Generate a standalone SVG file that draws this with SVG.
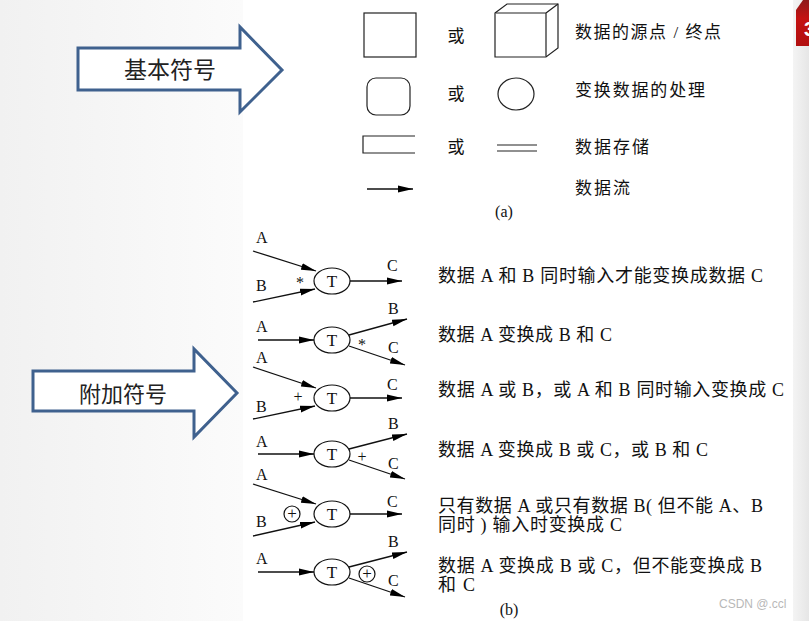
<svg xmlns="http://www.w3.org/2000/svg" width="809" height="621" viewBox="0 0 809 621">
<defs>
<linearGradient id="bgl" x1="0" y1="0" x2="1" y2="0">
<stop offset="0" stop-color="#f1f1f1"/>
<stop offset="1" stop-color="#fbfbfb"/>
</linearGradient>
<linearGradient id="bgr" x1="0" y1="0" x2="1" y2="0">
<stop offset="0" stop-color="#f4f4f4"/>
<stop offset="1" stop-color="#e6e6e6"/>
</linearGradient>
<linearGradient id="tab" x1="0" y1="0" x2="0" y2="1">
<stop offset="0" stop-color="#8e1a1a"/>
<stop offset="0.4" stop-color="#c41212"/>
<stop offset="1" stop-color="#b10f0f"/>
</linearGradient>
<marker id="ah" markerWidth="16" markerHeight="8" refX="15" refY="4" orient="auto" markerUnits="userSpaceOnUse">
<path d="M0,0.6 L15,4 L0,7.4 z" fill="#000"/>
</marker>
<style>
.big{fill:#fff;stroke:#3f618e;stroke-width:3;stroke-linejoin:miter}
.bigt{font-family:"Noto Sans CJK SC",sans-serif;fill:#222;text-anchor:middle}
.sh{fill:#fff;stroke:#222;stroke-width:1.2}
.cj{font-family:"Liberation Serif","Noto Sans CJK SC",serif;fill:#111;font-size:17px}
.ds{font-family:"Liberation Serif","Noto Sans CJK SC",serif;fill:#111;font-size:18px}
.lab{font-family:"Liberation Serif",serif;fill:#111;font-size:16px}
.tc{font-family:"Liberation Serif",serif;fill:#111;font-size:17px;text-anchor:middle}
.ln{fill:none;stroke:#111;stroke-width:1.3;marker-end:url(#ah)}
.nd{fill:#fff;stroke:#111;stroke-width:1.2}
</style>
</defs>

<rect width="809" height="621" fill="#ffffff"/>
<rect x="0" y="0" width="243" height="621" fill="url(#bgl)"/>
<rect x="793" y="0" width="16" height="621" fill="url(#bgr)"/>
<path d="M796,10 L803,0 L809,0 L809,46 L796,46 z" fill="url(#tab)"/>
<text x="804" y="36" font-family="Liberation Sans, sans-serif" font-weight="bold" font-size="20" fill="#fff">3</text>

<g id="arrow-basic">
<polygon class="big" points="78,48 240,48 240,27 282,70 240,112 240,90 78,90"/>
<text class="bigt" x="170" y="78" font-size="23">基本符号</text>
</g>
<g id="arrow-extra">
<polygon class="big" points="33,371 194,371 194,349 237,393 194,437 194,411 33,411"/>
<text class="bigt" x="123" y="402" font-size="22">附加符号</text>
</g>

<g id="basic-source-square">
<rect class="sh" x="364" y="13" width="52" height="44"/>
</g>
<g id="basic-source-cube">
<path class="sh" d="M495,13 L507,4 L558,4 L558,48 L546,57 L495,57 z"/>
<path class="sh" fill="none" d="M495,13 L546,13 L546,57 M546,13 L558,4"/>
</g>
<g id="basic-process-rounded">
<rect class="sh" x="367" y="78" width="43" height="37" rx="9" ry="9"/>
</g>
<g id="basic-process-circle">
<ellipse class="sh" cx="516" cy="94" rx="18" ry="16"/>
</g>
<g id="basic-store-open">
<path class="sh" fill="none" d="M415,136 L363,136 L363,153 L415,153"/>
</g>
<g id="basic-store-lines">
<path fill="none" stroke="#222" stroke-width="1.2" d="M497,145 L537,145 M497,151 L537,151"/>
</g>

<g id="basic-labels">
<text class="cj" x="456" y="42" text-anchor="middle">或</text>
<text class="cj" x="456" y="100" text-anchor="middle">或</text>
<text class="cj" x="456" y="153" text-anchor="middle">或</text>
<text class="cj" x="575" y="38" font-size="18" textLength="146" lengthAdjust="spacing">数据的源点 / 终点</text>
<text class="cj" x="575" y="96" font-size="18" textLength="130" lengthAdjust="spacing">变换数据的处理</text>
<text class="cj" x="575" y="153" font-size="18" textLength="74" lengthAdjust="spacing">数据存储</text>
<text class="cj" x="575" y="194" font-size="18" textLength="55" lengthAdjust="spacing">数据流</text>
<text class="lab" x="504" y="217" text-anchor="middle">(a)</text>
</g>

<g id="connectors">
<path class="ln" d="M367,189 L413,189"/>
<path class="ln" d="M253,251 L316,271"/>
<path class="ln" d="M253,302 L315,289"/>
<path class="ln" d="M350,281 L402,281"/>
<path class="ln" d="M258,340 L314,340"/>
<path class="ln" d="M349,335 L407,319"/>
<path class="ln" d="M349,346 L405,365"/>
<path class="ln" d="M253,367 L316,388"/>
<path class="ln" d="M253,419 L315,406"/>
<path class="ln" d="M350,398 L402,398"/>
<path class="ln" d="M258,454 L314,454"/>
<path class="ln" d="M349,449 L407,434"/>
<path class="ln" d="M349,460 L405,479"/>
<path class="ln" d="M253,484 L316,504"/>
<path class="ln" d="M253,536 L315,522"/>
<path class="ln" d="M350,514 L402,514"/>
<path class="ln" d="M258,572 L314,572"/>
<path class="ln" d="M349,567 L407,552"/>
<path class="ln" d="M349,578 L405,597"/>
</g>

<g id="T1"><ellipse class="nd" cx="332" cy="281" rx="18" ry="13"/><text class="tc" x="332" y="287">T</text></g>
<g id="T2"><ellipse class="nd" cx="332" cy="340" rx="18" ry="13"/><text class="tc" x="332" y="346">T</text></g>
<g id="T3"><ellipse class="nd" cx="332" cy="398" rx="18" ry="13"/><text class="tc" x="332" y="404">T</text></g>
<g id="T4"><ellipse class="nd" cx="332" cy="454" rx="18" ry="13"/><text class="tc" x="332" y="460">T</text></g>
<g id="T5"><ellipse class="nd" cx="332" cy="514" rx="18" ry="13"/><text class="tc" x="332" y="520">T</text></g>
<g id="T6"><ellipse class="nd" cx="332" cy="572" rx="18" ry="13"/><text class="tc" x="332" y="578">T</text></g>

<g id="xor5"><circle class="nd" cx="292" cy="514" r="8"/><text class="tc" x="292" y="519" font-size="15">+</text></g>
<g id="xor6"><circle class="nd" cx="367" cy="574" r="8"/><text class="tc" x="367" y="579" font-size="15">+</text></g>

<g id="flow-labels">
<text class="lab" x="256" y="243">A</text>
<text class="lab" x="256" y="291">B</text>
<text class="lab" x="387" y="271">C</text>
<text class="lab" x="300" y="288" text-anchor="middle" font-size="14">*</text>
<text class="lab" x="256" y="332">A</text>
<text class="lab" x="388" y="314">B</text>
<text class="lab" x="388" y="353">C</text>
<text class="lab" x="362" y="350" text-anchor="middle" font-size="14">*</text>
<text class="lab" x="256" y="363">A</text>
<text class="lab" x="256" y="412">B</text>
<text class="lab" x="387" y="390">C</text>
<text class="lab" x="298" y="402" text-anchor="middle">+</text>
<text class="lab" x="256" y="447">A</text>
<text class="lab" x="388" y="429">B</text>
<text class="lab" x="388" y="469">C</text>
<text class="lab" x="362" y="462" text-anchor="middle">+</text>
<text class="lab" x="256" y="480">A</text>
<text class="lab" x="256" y="527">B</text>
<text class="lab" x="387" y="507">C</text>
<text class="lab" x="256" y="564">A</text>
<text class="lab" x="388" y="547">B</text>
<text class="lab" x="388" y="586">C</text>
</g>

<g id="descriptions">
<text class="ds" x="438" y="282" textLength="325" lengthAdjust="spacing">数据 A 和 B 同时输入才能变换成数据 C</text>
<text class="ds" x="438" y="341" textLength="174" lengthAdjust="spacing">数据 A 变换成 B 和 C</text>
<text class="ds" x="438" y="396" textLength="346" lengthAdjust="spacing">数据 A 或 B，或 A 和 B 同时输入变换成 C</text>
<text class="ds" x="438" y="456" textLength="270" lengthAdjust="spacing">数据 A 变换成 B 或 C，或 B 和 C</text>
<text class="ds" x="438" y="512" textLength="325" lengthAdjust="spacing">只有数据 A 或只有数据 B( 但不能 A、B</text>
<text class="ds" x="438" y="531" textLength="184" lengthAdjust="spacing">同时 ) 输入时变换成 C</text>
<text class="ds" x="438" y="572" textLength="324" lengthAdjust="spacing">数据 A 变换成 B 或 C，但不能变换成 B</text>
<text class="ds" x="438" y="591" textLength="37" lengthAdjust="spacing">和 C</text>
<text class="lab" x="509" y="615" text-anchor="middle">(b)</text>
</g>

<text x="719" y="608" font-family="Liberation Sans, sans-serif" font-size="12" fill="#b8b8b8">CSDN @.ccl</text>
</svg>
